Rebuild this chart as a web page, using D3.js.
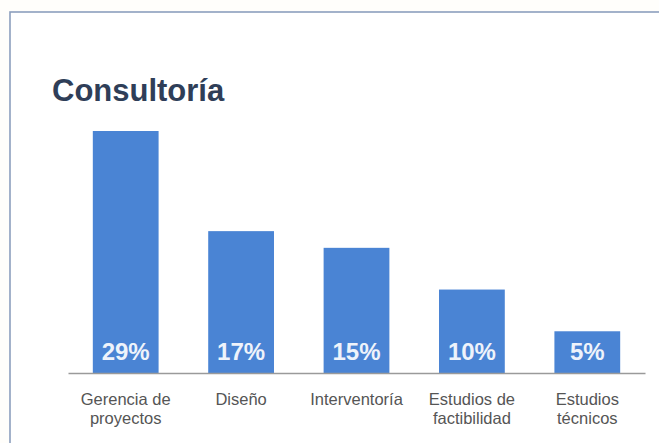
<!DOCTYPE html>
<html>
<head>
<meta charset="utf-8">
<script src="https://cdn.jsdelivr.net/npm/d3@7/dist/d3.min.js"></script>
<style>
  html, body { margin: 0; padding: 0; background: #fffefb; overflow: hidden; }
  svg { display: block; }
</style>
</head>
<body>
<svg id="chart" width="659" height="443"></svg>
<script>
const title = "Consultoría";
const categories = ["Gerencia de\nproyectos", "Diseño", "Interventoría", "Estudios de\nfactibilidad", "Estudios\ntécnicos"];
const values = [29, 17, 15, 10, 5];
const valueLabels = ["29%", "17%", "15%", "10%", "5%"];

const svg = d3.select("#chart");
const W = 659, H = 443;

// frame (extends beyond the right and bottom edges, as in the reference)
svg.append("rect").attr("x", 10).attr("y", 12).attr("width", W + 100).attr("height", H + 100)
  .attr("fill", "#ffffff").attr("stroke", "#8c9fbd").attr("stroke-width", 1.6);

svg.append("text").attr("x", 52).attr("y", 101).text(title)
  .attr("font-family", "Liberation Sans, Arial, sans-serif")
  .attr("font-weight", "bold").attr("font-size", 31)
  .attr("fill", "#2f3e58");

const x = d3.scaleBand().domain(categories).range([68, 645])
  .paddingInner(0.43).paddingOuter(0.215);
const baseY = 373;
const y = d3.scaleLinear().domain([0, d3.max(values)]).range([baseY, 131]);

const data = categories.map((c, i) => ({ c, v: values[i], l: valueLabels[i] }));

svg.selectAll("rect.bar").data(data).enter().append("rect")
  .attr("class", "bar")
  .attr("x", d => x(d.c)).attr("width", x.bandwidth())
  .attr("y", d => y(d.v)).attr("height", d => y(0) - y(d.v))
  .attr("fill", "#4a84d4");

svg.selectAll("text.val").data(data).enter().append("text")
  .attr("class", "val")
  .attr("x", d => x(d.c) + x.bandwidth() / 2).attr("y", baseY - 13)
  .attr("text-anchor", "middle")
  .attr("font-family", "Liberation Sans, Arial, sans-serif")
  .attr("font-weight", "bold").attr("font-size", 24)
  .attr("fill", "#eef3fb")
  .text(d => d.l);

const axis = d3.axisBottom(x).tickSize(0).tickSizeOuter(0).tickFormat(() => "");
const g = svg.append("g").attr("transform", `translate(0,${baseY})`).call(axis);
g.select(".domain").attr("stroke", "#9a9a9a").attr("stroke-width", 1.6);

g.selectAll(".tick text").remove();
g.selectAll(".tick").each(function (d) {
  const t = d3.select(this).append("text")
    .attr("text-anchor", "middle")
    .attr("font-family", "Liberation Sans, Arial, sans-serif")
    .attr("font-size", 16.5)
    .attr("fill", "#555555");
  d.split("\n").forEach((line, i) => {
    t.append("tspan").attr("x", 0).attr("y", 32 + i * 19).text(line);
  });
});
</script>
</body>
</html>
